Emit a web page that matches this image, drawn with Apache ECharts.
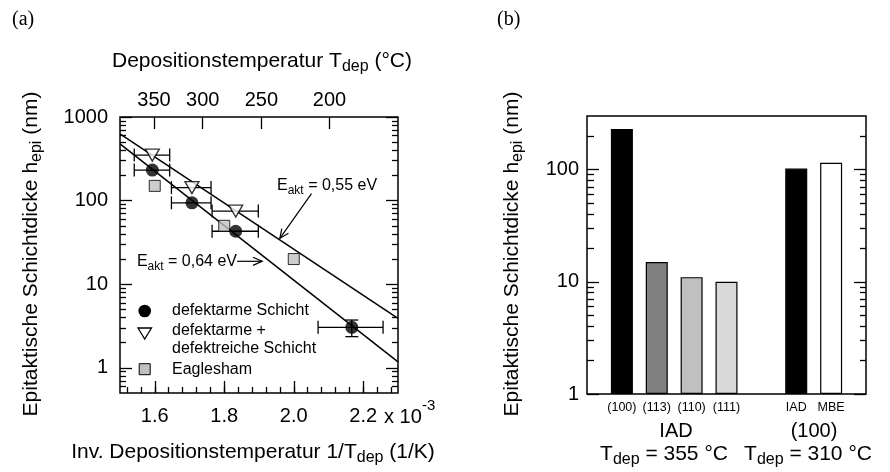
<!DOCTYPE html>
<html><head><meta charset="utf-8">
<script src="https://cdn.jsdelivr.net/npm/echarts@6/dist/echarts.min.js"></script>
<style>html,body{margin:0;padding:0;background:#fff}#c{width:890px;height:472px}</style>
</head><body><div id="c"></div>
<script>
// ---------- Data, panel (a) ----------
const circlePts    = [[1.593, 232], [1.707, 94], [1.833, 43], [2.167, 3.05]];
const circleXErr   = [[1.541, 1.643], [1.648, 1.762], [1.765, 1.898], [2.070, 2.257]];
const circleYErr   = [null, null, null, [2.36, 3.73]];
const trianglePts  = [[1.593, 350], [1.707, 143], [1.833, 75]];
const triangleXErr = [[1.541, 1.643], [1.648, 1.762], [1.765, 1.898]];
const squarePts    = [[1.6, 150], [1.8, 50], [2.0, 20]];
const fit055 = [[1.5, 630], [2.3, 3.9]];
const fit064 = [[1.5, 477], [2.3, 1.18]];
const arrow055 = [[2.051, 121], [1.960, 35.3]];
const arrow064 = [[1.837, 18.8], [1.909, 18.8]];
const bottomTicks   = [1.6, 1.8, 2.0, 2.2];
const topTickLabels = ['350', '300', '250', '200'];
const topTickPos    = [1.598, 1.738, 1.907, 2.103];
const decadesA = [1, 10, 100, 1000];
// ---------- Data, panel (b) ----------
const barCats   = ['', '(100)', '(113)', '(110)', '(111)', '', 'IAD', 'MBE', ''];
const barVals   = [null, 230, 15, 11, 10, null, 102, 115, null];
const barColors = [null, '#000000', '#808080', '#c0c0c0', '#d9d9d9', null, '#000000', '#ffffff', null];
const decadesB = [1, 10, 100];

const L = v => Math.log10(v);
const FONT = '"Liberation Sans", Arial, Helvetica, sans-serif';
const SERIF = '"Liberation Serif", "Times New Roman", serif';
const BLACK = '#000';

function minorLog(lo, hi) {
  const out = [];
  for (let d = -1; d <= 3; d++) for (let k = 2; k <= 9; k++) {
    const v = k * Math.pow(10, d);
    if (v > lo * 1.0001 && v < hi * 0.9999) out.push(L(v));
  }
  return out;
}
const minorX = [];
for (let i = 0; i <= 19; i++) minorX.push(+(1.52 + 0.04 * i).toFixed(2));

const tickStyle = {color: BLACK, width: 1.3};
function axisBase(extra) {
  return Object.assign({
    axisLine: {show: false, onZero: false}, splitLine: {show: false}, axisPointer: {show: false}
  }, extra);
}
function yTickAxis(grid, pos, min, max, vals, len, labels) {
  return axisBase({
    gridIndex: grid, type: 'value', position: pos, min: min, max: max,
    axisTick: {show: true, inside: true, length: len, customValues: vals, lineStyle: tickStyle},
    axisLabel: labels ? {show: true, customValues: vals, formatter: v => String(Math.round(Math.pow(10, v))),
      color: BLACK, fontSize: 20, fontFamily: FONT, margin: labels} : {show: false}
  });
}

const yMinA = L(0.5), yMaxA = 3;
const yMinB = 0, yMaxB = L(300);
const majA = decadesA.map(L), majB = decadesB.map(L);
const minA = minorLog(0.5, 1000), minB = minorLog(1, 300);

const errData = [];
circlePts.forEach((p, i) => {
  const xe = circleXErr[i], ye = circleYErr[i];
  errData.push([p[0], L(p[1]), xe[0], xe[1], ye ? L(ye[0]) : L(p[1]), ye ? L(ye[1]) : L(p[1])]);
});
trianglePts.forEach((p, i) => {
  const xe = triangleXErr[i];
  errData.push([p[0], L(p[1]), xe[0], xe[1], L(p[1]), L(p[1])]);
});
const arrowData = [arrow055, arrow064].map(a => [a[0][0], L(a[0][1]), a[1][0], L(a[1][1])]);

const lst = {stroke: BLACK, lineWidth: 1.3};
function renderErr(params, api) {
  const x = api.value(0), y = api.value(1);
  const a = api.coord([api.value(2), y]), b = api.coord([api.value(3), y]);
  const c0 = api.coord([x, api.value(4)]), c1 = api.coord([x, api.value(5)]);
  const cap = 6.5;
  const ch = [
    {type: 'line', shape: {x1: a[0], y1: a[1], x2: b[0], y2: b[1]}, style: lst},
    {type: 'line', shape: {x1: a[0], y1: a[1] - cap, x2: a[0], y2: a[1] + cap}, style: lst},
    {type: 'line', shape: {x1: b[0], y1: b[1] - cap, x2: b[0], y2: b[1] + cap}, style: lst}
  ];
  if (Math.abs(c0[1] - c1[1]) > 0.5) {
    ch.push({type: 'line', shape: {x1: c0[0], y1: c0[1], x2: c1[0], y2: c1[1]}, style: lst});
    ch.push({type: 'line', shape: {x1: c0[0] - cap, y1: c0[1], x2: c0[0] + cap, y2: c0[1]}, style: lst});
    ch.push({type: 'line', shape: {x1: c1[0] - cap, y1: c1[1], x2: c1[0] + cap, y2: c1[1]}, style: lst});
  }
  return {type: 'group', children: ch};
}
function renderArrow(params, api) {
  const p0 = api.coord([api.value(0), api.value(1)]), p1 = api.coord([api.value(2), api.value(3)]);
  const ang = Math.atan2(p1[1] - p0[1], p1[0] - p0[0]);
  const hl = 10, sp = 0.42;
  const h1 = [p1[0] - hl * Math.cos(ang - sp), p1[1] - hl * Math.sin(ang - sp)];
  const h2 = [p1[0] - hl * Math.cos(ang + sp), p1[1] - hl * Math.sin(ang + sp)];
  const st = {stroke: BLACK, lineWidth: 1.2, fill: null};
  return {type: 'group', children: [
    {type: 'line', shape: {x1: p0[0], y1: p0[1], x2: p1[0], y2: p1[1]}, style: st},
    {type: 'polyline', shape: {points: [h1, p1, h2]}, style: st}
  ]};
}

function subText(main, sub, rest, fs, sfs, pad) {
  return {
    text: '{m|' + main + '}{s|' + sub + '}{m|' + rest + '}',
    rich: {
      m: {fontSize: fs, fontFamily: FONT, fill: BLACK, color: BLACK},
      s: {fontSize: sfs, fontFamily: FONT, fill: BLACK, color: BLACK, padding: [pad, 0, 0, 0]}
    }
  };
}
function gText(x, y, t, align, rot) {
  return {type: 'text', x: x, y: y, rotation: rot || 0, z: 100,
    style: Object.assign({align: align || 'center', verticalAlign: 'middle', fill: BLACK}, t)};
}

const option = {
  animation: false,
  backgroundColor: '#fff',
  grid: [
    {left: 120, top: 117, width: 278, height: 276, show: true, borderColor: BLACK, borderWidth: 1.5, backgroundColor: 'transparent'},
    {left: 587, top: 116, width: 279, height: 278, show: true, borderColor: BLACK, borderWidth: 1.5, backgroundColor: 'transparent'}
  ],
  xAxis: [
    axisBase({gridIndex: 0, type: 'value', min: 1.5, max: 2.3, position: 'bottom',
      axisTick: {show: true, inside: true, length: 12, customValues: bottomTicks, lineStyle: tickStyle},
      axisLabel: {show: true, customValues: bottomTicks, formatter: v => v.toFixed(1), color: BLACK, fontSize: 20, fontFamily: FONT, margin: 13}}),
    axisBase({gridIndex: 0, type: 'value', min: 1.5, max: 2.3, position: 'bottom',
      axisTick: {show: true, inside: true, length: 6, customValues: minorX, lineStyle: tickStyle},
      axisLabel: {show: false}}),
    axisBase({gridIndex: 0, type: 'value', min: 1.5, max: 2.3, position: 'top',
      axisTick: {show: true, inside: true, length: 12, customValues: topTickPos, lineStyle: tickStyle},
      axisLabel: {show: true, customValues: topTickPos, color: BLACK, fontSize: 20, fontFamily: FONT, margin: 7,
        formatter: v => { const i = topTickPos.findIndex(p => Math.abs(p - v) < 1e-6); return i >= 0 ? topTickLabels[i] : ''; }}}),
    axisBase({gridIndex: 1, type: 'category', data: barCats, boundaryGap: false, position: 'bottom',
      axisTick: {show: false},
      axisLabel: {show: true, interval: 0, color: BLACK, fontSize: 12.5, fontFamily: FONT, margin: 7}})
  ],
  yAxis: [
    yTickAxis(0, 'left', yMinA, yMaxA, majA, 12, 12),
    yTickAxis(0, 'left', yMinA, yMaxA, minA, 6, 0),
    yTickAxis(0, 'right', yMinA, yMaxA, majA, 12, 0),
    yTickAxis(0, 'right', yMinA, yMaxA, minA, 6, 0),
    yTickAxis(1, 'left', yMinB, yMaxB, majB, 12, 8),
    yTickAxis(1, 'left', yMinB, yMaxB, minB, 7, 0),
    yTickAxis(1, 'right', yMinB, yMaxB, majB, 12, 0),
    yTickAxis(1, 'right', yMinB, yMaxB, minB, 6, 0)
  ],
  series: [
    {type: 'line', xAxisIndex: 0, yAxisIndex: 0, data: fit055.map(p => [p[0], L(p[1])]), symbol: 'none',
      lineStyle: {color: BLACK, width: 1.5}, silent: true, z: 2},
    {type: 'line', xAxisIndex: 0, yAxisIndex: 0, data: fit064.map(p => [p[0], L(p[1])]), symbol: 'none',
      lineStyle: {color: BLACK, width: 1.5}, silent: true, z: 2},
    {type: 'custom', xAxisIndex: 0, yAxisIndex: 0, data: errData, renderItem: renderErr,
      encode: {x: [0, 2, 3], y: [1, 4, 5]}, silent: true, z: 3},
    {type: 'custom', xAxisIndex: 0, yAxisIndex: 0, data: arrowData, renderItem: renderArrow,
      encode: {x: [0, 2], y: [1, 3]}, silent: true, z: 3},
    {type: 'scatter', name: 'Eaglesham', xAxisIndex: 0, yAxisIndex: 0, data: squarePts.map(p => [p[0], L(p[1])]),
      symbol: 'rect', symbolSize: 11, itemStyle: {color: '#c0c0c0', borderColor: BLACK, borderWidth: 1}, z: 4},
    {type: 'scatter', name: 'defektarme + defektreiche Schicht', xAxisIndex: 0, yAxisIndex: 0,
      data: trianglePts.map(p => [p[0], L(p[1])]), symbol: 'triangle', symbolRotate: 180, symbolSize: [14, 12],
      itemStyle: {color: '#fff', borderColor: BLACK, borderWidth: 1.3}, z: 5},
    {type: 'scatter', name: 'defektarme Schicht', xAxisIndex: 0, yAxisIndex: 0, data: circlePts.map(p => [p[0], L(p[1])]),
      symbol: 'circle', symbolSize: 13, itemStyle: {color: BLACK}, z: 6},
    {type: 'bar', xAxisIndex: 3, yAxisIndex: 4, barWidth: 22,
      data: barVals.map((v, i) => v == null ? '-' : {value: L(v), itemStyle: {color: barColors[i]}}),
      itemStyle: {borderColor: BLACK, borderWidth: 1.2}, z: 3}
  ],
  graphic: [
    gText(12, 20, {text: '(a)', fontSize: 20, fontFamily: SERIF}, 'left'),
    gText(497, 20, {text: '(b)', fontSize: 20, fontFamily: SERIF}, 'left'),
    gText(262, 61, subText('Depositionstemperatur T', 'dep', ' (°C)', 21, 16, 12)),
    gText(253, 452, subText('Inv. Depositionstemperatur 1/T', 'dep', ' (1/K)', 21, 16, 12)),
    gText(31, 254, subText('Epitaktische Schichtdicke h', 'epi', ' (nm)', 21, 16, 12), 'center', Math.PI / 2),
    gText(512, 254, subText('Epitaktische Schichtdicke h', 'epi', ' (nm)', 21, 16, 12), 'center', Math.PI / 2),
    gText(384, 417, {text: 'x 10', fontSize: 20, fontFamily: FONT}, 'left'),
    gText(422, 406, {text: '-3', fontSize: 15, fontFamily: FONT}, 'left'),
    gText(277, 186, subText('E', 'akt', ' = 0,55 eV', 16, 12, 10), 'left'),
    gText(237, 262, subText('E', 'akt', ' = 0,64 eV', 16, 12, 10), 'right'),
    // legend
    {type: 'circle', shape: {cx: 144.7, cy: 311, r: 6.3}, style: {fill: BLACK}, z: 100},
    {type: 'polygon', shape: {points: [[138, 328], [151.5, 328], [144.7, 339]]}, style: {fill: '#fff', stroke: BLACK, lineWidth: 1.3}, z: 100},
    {type: 'rect', shape: {x: 139.2, y: 363.7, width: 11, height: 11}, style: {fill: '#c0c0c0', stroke: BLACK, lineWidth: 1}, z: 100},
    gText(172, 311, {text: 'defektarme Schicht', fontSize: 16, fontFamily: FONT}, 'left'),
    gText(172, 331, {text: 'defektarme +', fontSize: 16, fontFamily: FONT}, 'left'),
    gText(172, 349, {text: 'defektreiche Schicht', fontSize: 16, fontFamily: FONT}, 'left'),
    gText(172, 370, {text: 'Eaglesham', fontSize: 16, fontFamily: FONT}, 'left'),
    // panel (b) group labels
    gText(676, 431, {text: 'IAD', fontSize: 20, fontFamily: FONT}),
    gText(814, 431, {text: '(100)', fontSize: 20, fontFamily: FONT}),
    gText(664, 454, subText('T', 'dep', ' = 355 °C', 21, 16, 12)),
    gText(808, 454, subText('T', 'dep', ' = 310 °C', 21, 16, 12))
  ]
};
const chart = echarts.init(document.getElementById('c'));
chart.setOption(option);
</script>
</body></html>
